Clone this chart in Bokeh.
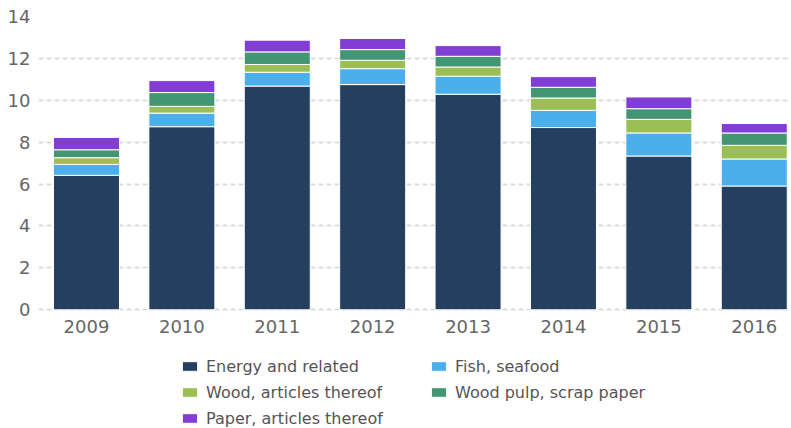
from bokeh.plotting import figure
from bokeh.models import ColumnDataSource, Range1d, FixedTicker, Legend, LegendItem
from bokeh.embed import file_html
from bokeh.resources import INLINE

# ---- data ----
years = ["2009", "2010", "2011", "2012", "2013", "2014", "2015", "2016"]
energy = [6.42, 8.74, 10.68, 10.75, 10.29, 8.70, 7.34, 5.91]
fish = [0.52, 0.65, 0.66, 0.76, 0.86, 0.82, 1.10, 1.29]
wood = [0.32, 0.32, 0.37, 0.40, 0.44, 0.59, 0.65, 0.65]
pulp = [0.38, 0.66, 0.60, 0.51, 0.51, 0.51, 0.51, 0.59]
paper = [0.59, 0.57, 0.56, 0.53, 0.51, 0.51, 0.56, 0.45]
series_names = ["Energy and related", "Fish, seafood", "Wood, articles thereof",
                "Wood pulp, scrap paper", "Paper, articles thereof"]
y_ticks = [0, 2, 4, 6, 8, 10, 12, 14]

# ---- style ----
colors = ["#243f5f", "#4aafeb", "#9bbe55", "#439673", "#813dd5"]
FONT = "DejaVu Sans"

xpos = list(range(len(years)))
keys = ["energy", "fish", "wood", "pulp", "paper"]
source = ColumnDataSource(dict(x=xpos, energy=energy, fish=fish, wood=wood,
                               pulp=pulp, paper=paper))

# frame runs down to the bottom edge; the value range leaves room below 0
# for the year labels and the legend
p = figure(width=791, height=428, output_backend="svg", toolbar_location=None,
           x_range=Range1d(-0.503, 7.38), y_range=Range1d(-5.666, 14),
           min_border_left=38, min_border_right=1, min_border_top=16,
           min_border_bottom=0)
p.outline_line_color = None
p.background_fill_color = "white"
p.border_fill_color = "white"

renderers = p.vbar_stack(keys, x="x", width=0.692, source=source,
                         fill_color=colors, line_color="white", line_width=1)

# axes
p.xaxis.fixed_location = 0
p.xaxis.ticker = FixedTicker(ticks=xpos)
p.xaxis.major_label_overrides = {i: y for i, y in zip(xpos, years)}
p.yaxis.ticker = FixedTicker(ticks=y_ticks)
for ax in (p.xaxis[0], p.yaxis[0]):
    ax.axis_line_color = None
    ax.major_tick_line_color = None
    ax.minor_tick_line_color = None
    ax.major_tick_out = 0
    ax.major_tick_in = 0
    ax.major_label_text_font = FONT
    ax.major_label_text_font_size = "18px"
    ax.major_label_text_color = "#666666"
p.xaxis.major_label_standoff = 10
p.yaxis.major_label_standoff = 8

p.xgrid.visible = False
p.ygrid.grid_line_color = "#dddddd"
p.ygrid.grid_line_dash = "5 3"
p.ygrid.grid_line_width = 2

items = [LegendItem(label=n, renderers=[r]) for n, r in zip(series_names, renderers)]
legend = Legend(items=items, location=(142, 0), orientation="horizontal", ncols=2,
                glyph_width=19, glyph_height=12, label_standoff=7, spacing=6,
                label_width=217, label_height=20, padding=0, margin=0,
                border_line_color=None, background_fill_alpha=0,
                label_text_font=FONT, label_text_font_size="16px",
                label_text_color="#555555")
p.add_layout(legend)

open("out.html", "w").write(file_html(p, INLINE))
